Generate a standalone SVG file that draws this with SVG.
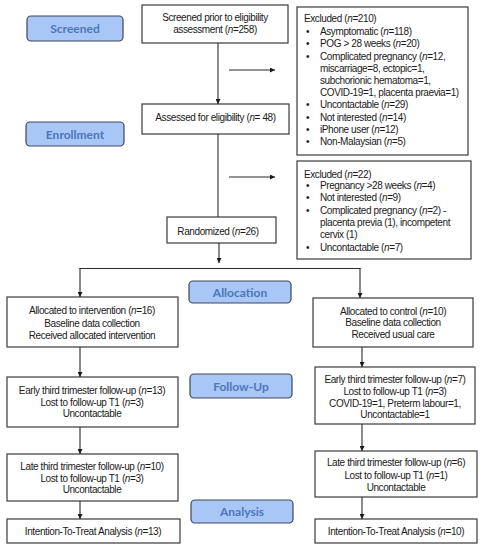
<svg xmlns="http://www.w3.org/2000/svg" width="483" height="550" viewBox="0 0 483 550">
<defs>
<style>
.box{fill:#ffffff;stroke:#3a3a3a;stroke-width:1.2}
.lbl{fill:#a8c6f6;stroke:#3e4757;stroke-width:1.2}
.lt{font-family:Lato,"Open Sans",sans-serif;font-weight:bold;font-size:12px;fill:#4d77b6;text-anchor:middle}
.t{font-family:"Liberation Sans",Arial,sans-serif;font-size:10px;letter-spacing:-0.4px;fill:#1a1a1a}
.c{text-anchor:middle}
.i{font-style:italic}
.ln{fill:none;stroke:#2a2a2a;stroke-width:1.1}
</style>
<marker id="ah" viewBox="0 0 8 8" refX="8" refY="4" markerWidth="5" markerHeight="5" orient="auto" markerUnits="userSpaceOnUse">
<path d="M0,0 L8,4 L0,8 Z" fill="#1a1a1a"/>
</marker>
</defs>
<rect width="483" height="550" fill="#ffffff"/>

<g id="stage-screened"><rect class="lbl" x="27" y="16" width="96" height="25" rx="4"/><text class="lt" x="75" y="32.5">Screened</text></g>
<g id="stage-enrollment"><rect class="lbl" x="26" y="122" width="98" height="24" rx="4"/><text class="lt" x="75" y="138.5">Enrollment</text></g>
<g id="stage-allocation"><rect class="lbl" x="189" y="281" width="102" height="22" rx="4"/><text class="lt" x="240" y="296.5">Allocation</text></g>
<g id="stage-followup"><rect class="lbl" x="190" y="374" width="102" height="24" rx="4"/><text class="lt" x="241" y="390.5">Follow-Up</text></g>
<g id="stage-analysis"><rect class="lbl" x="191" y="500" width="102" height="23" rx="4"/><text class="lt" x="242" y="516">Analysis</text></g>

<g id="screened-box"><rect class="box" x="142" y="5" width="146" height="38"/>
<text class="t c" x="215" y="21">Screened prior to eligibility</text>
<text class="t c" x="215" y="33">assessment (<tspan class="i">n</tspan>=258)</text></g>

<g id="excluded-1"><rect class="box" x="297" y="7" width="171" height="148"/>
<text class="t" x="304" y="22">Excluded (<tspan class="i">n</tspan>=210)</text>
<text class="t" x="306" y="35">•</text><text class="t" x="320" y="35">Asymptomatic (<tspan class="i">n</tspan>=118)</text>
<text class="t" x="306" y="47">•</text><text class="t" x="320" y="47">POG &gt; 28 weeks (<tspan class="i">n</tspan>=20)</text>
<text class="t" x="306" y="60">•</text><text class="t" x="320" y="60">Complicated pregnancy (<tspan class="i">n</tspan>=12,</text>
<text class="t" x="320" y="72">miscarriage=8, ectopic=1,</text>
<text class="t" x="320" y="84">subchorionic hematoma=1,</text>
<text class="t" x="320" y="96">COVID-19=1, placenta praevia=1)</text>
<text class="t" x="306" y="108">•</text><text class="t" x="320" y="108">Uncontactable (<tspan class="i">n</tspan>=29)</text>
<text class="t" x="306" y="121">•</text><text class="t" x="320" y="121">Not interested (<tspan class="i">n</tspan>=14)</text>
<text class="t" x="306" y="133">•</text><text class="t" x="320" y="133">iPhone user (<tspan class="i">n</tspan>=12)</text>
<text class="t" x="306" y="145">•</text><text class="t" x="320" y="145">Non-Malaysian (<tspan class="i">n</tspan>=5)</text></g>

<g id="assessed-box"><rect class="box" x="142" y="104" width="147" height="30"/>
<text class="t c" x="215.5" y="121">Assessed for eligibility (<tspan class="i">n</tspan>= 48)</text></g>

<g id="excluded-2"><rect class="box" x="297" y="161" width="174" height="98"/>
<text class="t" x="304" y="178">Excluded (<tspan class="i">n</tspan>=22)</text>
<text class="t" x="306" y="189">•</text><text class="t" x="320" y="189">Pregnancy &gt;28 weeks (<tspan class="i">n</tspan>=4)</text>
<text class="t" x="306" y="201">•</text><text class="t" x="320" y="201">Not interested (<tspan class="i">n</tspan>=9)</text>
<text class="t" x="306" y="214">•</text><text class="t" x="320" y="214">Complicated pregnancy (<tspan class="i">n</tspan>=2) -</text>
<text class="t" x="320" y="226">placenta previa (1), incompetent</text>
<text class="t" x="320" y="238">cervix (1)</text>
<text class="t" x="306" y="251">•</text><text class="t" x="320" y="251">Uncontactable (<tspan class="i">n</tspan>=7)</text></g>

<g id="randomized-box"><rect class="box" x="167" y="217" width="109" height="26"/>
<text class="t c" x="218" y="235">Randomized (<tspan class="i">n</tspan>=26)</text></g>

<g id="intervention-box"><rect class="box" x="7" y="297" width="171" height="50"/>
<text class="t c" x="92" y="314">Allocated to intervention (<tspan class="i">n</tspan>=16)</text>
<text class="t c" x="92" y="327">Baseline data collection</text>
<text class="t c" x="92" y="339">Received allocated intervention</text></g>

<g id="control-box"><rect class="box" x="313" y="298" width="160" height="49"/>
<text class="t c" x="393" y="315">Allocated to control (<tspan class="i">n</tspan>=10)</text>
<text class="t c" x="393" y="326">Baseline data collection</text>
<text class="t c" x="393" y="338">Received usual care</text></g>

<g id="early-left"><rect class="box" x="7" y="377" width="171" height="50"/>
<text class="t c" x="92" y="394">Early third trimester follow-up (<tspan class="i">n</tspan>=13)</text>
<text class="t c" x="92" y="406">Lost to follow-up T1 (<tspan class="i">n</tspan>=3)</text>
<text class="t c" x="92" y="417">Uncontactable</text></g>

<g id="early-right"><rect class="box" x="315" y="367" width="160" height="57"/>
<text class="t c" x="395" y="383">Early third trimester follow-up (<tspan class="i">n</tspan>=7)</text>
<text class="t c" x="395" y="395">Lost to follow-up T1 (<tspan class="i">n</tspan>=3)</text>
<text class="t c" x="395" y="407">COVID-19=1, Preterm labour=1,</text>
<text class="t c" x="395" y="418">Uncontactable=1</text></g>

<g id="late-left"><rect class="box" x="7" y="454" width="171" height="47"/>
<text class="t c" x="92" y="470">Late third trimester follow-up (<tspan class="i">n</tspan>=10)</text>
<text class="t c" x="92" y="482">Lost to follow-up T1 (<tspan class="i">n</tspan>=3)</text>
<text class="t c" x="92" y="493">Uncontactable</text></g>

<g id="late-right"><rect class="box" x="315" y="451" width="162" height="46"/>
<text class="t c" x="396" y="466">Late third trimester follow-up (<tspan class="i">n</tspan>=6)</text>
<text class="t c" x="396" y="479">Lost to follow-up T1 (<tspan class="i">n</tspan>=1)</text>
<text class="t c" x="396" y="491">Uncontactable</text></g>

<g id="itt-left"><rect class="box" x="7" y="519" width="173" height="24"/>
<text class="t c" x="93" y="535">Intention-To-Treat Analysis (<tspan class="i">n</tspan>=13)</text></g>

<g id="itt-right"><rect class="box" x="315" y="519" width="162" height="24"/>
<text class="t c" x="396" y="535">Intention-To-Treat Analysis (<tspan class="i">n</tspan>=10)</text></g>

<g id="connectors">
<line class="ln" x1="218" y1="43" x2="218" y2="104" marker-end="url(#ah)"/>
<line class="ln" x1="229" y1="70" x2="275" y2="70" marker-end="url(#ah)"/>
<line class="ln" x1="218" y1="134" x2="218" y2="217"/>
<line class="ln" x1="229" y1="177" x2="275" y2="177" marker-end="url(#ah)"/>
<line class="ln" x1="219" y1="243" x2="219" y2="263" marker-end="url(#ah)"/>
<line class="ln" x1="79.5" y1="268.5" x2="360.5" y2="268.5"/>
<line class="ln" x1="80" y1="268" x2="80" y2="297" marker-end="url(#ah)"/>
<line class="ln" x1="360" y1="268" x2="360" y2="298" marker-end="url(#ah)"/>
<line class="ln" x1="80" y1="347" x2="80" y2="377" marker-end="url(#ah)"/>
<line class="ln" x1="80" y1="427" x2="80" y2="454" marker-end="url(#ah)"/>
<line class="ln" x1="80" y1="501" x2="80" y2="519" marker-end="url(#ah)"/>
<line class="ln" x1="362" y1="347" x2="362" y2="367" marker-end="url(#ah)"/>
<line class="ln" x1="362" y1="424" x2="362" y2="451" marker-end="url(#ah)"/>
<line class="ln" x1="362" y1="497" x2="362" y2="519" marker-end="url(#ah)"/>
</g>
</svg>
